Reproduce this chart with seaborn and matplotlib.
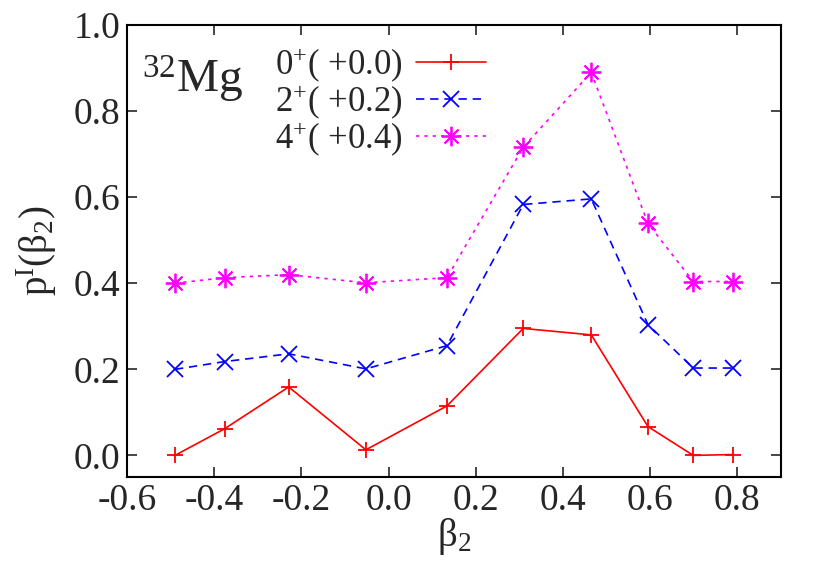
import numpy as np
import pandas as pd
import matplotlib
matplotlib.use("Agg")
import matplotlib.pyplot as plt
import seaborn as sns

# beta_2 grid and p(beta_2) for each state
beta2 = [-0.490, -0.376, -0.229, -0.052, 0.134, 0.309, 0.465, 0.595, 0.699, 0.790]
p_0plus = [0.000, 0.062, 0.159, 0.013, 0.115, 0.295, 0.280, 0.067, 0.000, 0.002]
p_2plus = [0.000, 0.018, 0.036, 0.001, 0.055, 0.383, 0.396, 0.104, 0.003, 0.003]
p_4plus = [0.000, 0.013, 0.020, 0.001, 0.013, 0.316, 0.490, 0.139, 0.004, 0.004]
offsets = [0.0, 0.2, 0.4]
labels = ["0$^{+}$( +0.0)", "2$^{+}$( +0.2)", "4$^{+}$( +0.4)"]
xticks = [-0.6, -0.4, -0.2, 0.0, 0.2, 0.4, 0.6, 0.8]
yticks = [0.0, 0.2, 0.4, 0.6, 0.8, 1.0]

sns.set_style("ticks")
plt.rcParams['font.family'] = ['Liberation Serif', 'DejaVu Serif']
plt.rcParams['mathtext.fontset'] = 'custom'
plt.rcParams['mathtext.rm'] = 'Liberation Serif'
plt.rcParams['mathtext.it'] = 'Liberation Serif:italic'

fig = plt.figure(figsize=(8.22, 5.76), dpi=100)
ax = fig.add_axes([0.1545, 0.172, 0.7955, 0.7846])

styles = [
    dict(color="#ff0000", marker="+", linestyle="-", ms=12),
    dict(color="#0000ff", marker="x", linestyle=(0, (5, 3.5)), ms=11),
    dict(color="#ff00ff", marker=(8, 2, 0), linestyle=(0, (2, 3)), ms=14),
]
series = [p_0plus, p_2plus, p_4plus]
for vals, off, lab, st in zip(series, offsets, labels, styles):
    df = pd.DataFrame({"beta2": beta2, "p": np.array(vals) + off})
    sns.lineplot(data=df, x="beta2", y="p", ax=ax, sort=False, label=lab,
                 color=st["color"], marker=st["marker"], linestyle=st["linestyle"],
                 markersize=st["ms"], markeredgewidth=1.3, linewidth=1.2,
                 markeredgecolor=st["color"])

ax.set_xlim(-0.6, 0.9)
ax.set_ylim(-0.05, 1.0)
ax.set_xticks(xticks)
ax.set_yticks(yticks)
ax.set_xticklabels([f"{t:.1f}" for t in xticks])
ax.set_yticklabels([f"{t:.1f}" for t in yticks])
ax.tick_params(direction="in", length=7, width=1.2, labelsize=27,
               top=True, right=True, pad=5)
for s in ax.spines.values():
    s.set_linewidth(1.5)
    s.set_color("black")

ax.set_xlabel("β$_{2}$", fontsize=28, labelpad=-2)
ax.set_ylabel("p$^{\\mathrm{I}}$(β$_{2}$)", fontsize=28, labelpad=10)

ax.text(0.023, 0.85, "$^{32}$Mg", transform=ax.transAxes, fontsize=34,
        ha="left", va="baseline")

leg = ax.legend(loc="upper left", bbox_to_anchor=(0.226, 0.955), frameon=False,
                markerfirst=False, fontsize=25, handlelength=2.0,
                handletextpad=0.4, labelspacing=-0.05, borderaxespad=0,
                borderpad=0)

fig.savefig("out.png", dpi=100)
